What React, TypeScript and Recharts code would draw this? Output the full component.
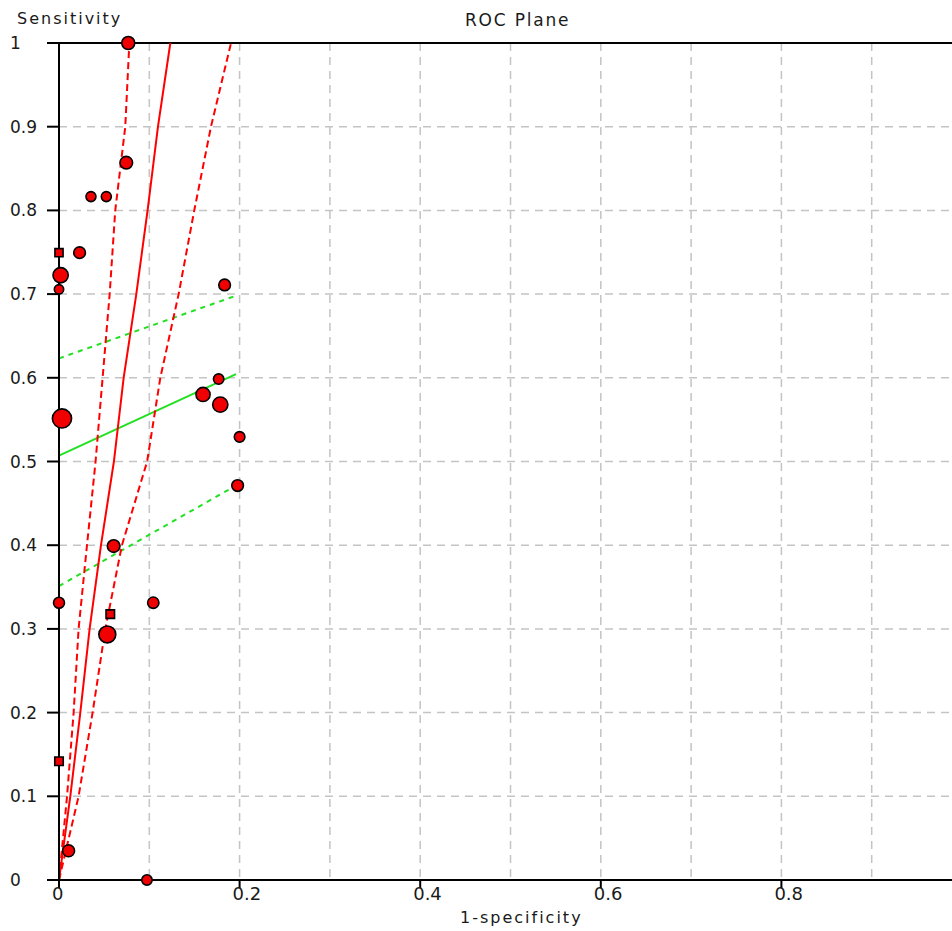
import React from 'react';
import {
  ComposedChart,
  XAxis,
  YAxis,
  ZAxis,
  CartesianGrid,
  Scatter,
  Line,
  ReferenceLine,
  Label,
} from 'recharts';

// ---- axis ticks ----
const xTicks = [0, 0.1, 0.2, 0.3, 0.4, 0.5, 0.6, 0.7, 0.8, 0.9, 1];
const xTickLabels = ['0', '', '0.2', '', '0.4', '', '0.6', '', '0.8', '', ''];
const yTicks = [0, 0.1, 0.2, 0.3, 0.4, 0.5, 0.6, 0.7, 0.8, 0.9, 1];
const yTickLabels = ['0', '0.1', '0.2', '0.3', '0.4', '0.5', '0.6', '0.7', '0.8', '0.9', '1'];

// ---- individual studies (1-specificity, sensitivity, weight) ----
const studyFpr = [
  0.0767, 0.0745, 0.0354, 0.0524, 0.0228, 0.0018, 0, 0.1834, 0.1768, 0.1595, 0.1786,
  0.0033, 0.2, 0.1978, 0.0605, 0, 0.1044, 0.0535, 0.0106, 0.0974,
];
const studySens = [
  1.0, 0.857, 0.8165, 0.8165, 0.7495, 0.7225, 0.7057, 0.7109, 0.5985, 0.5801, 0.568,
  0.5514, 0.5294, 0.4713, 0.399, 0.3313, 0.3313, 0.2934, 0.035, 0,
];
const studyWeight = [
  42, 40, 25, 25, 34, 58, 22, 34, 27, 50, 58,
  92, 28, 34, 40, 30, 32, 72, 36, 27,
];

// small studies drawn as squares
const smallFpr = [0, 0.0568, 0];
const smallSens = [0.7495, 0.3177, 0.1419];
const smallWeight = [21, 23, 23];

// ---- SROC curve and its confidence band ----
const srocSens = [0, 0.1, 0.2, 0.3, 0.4, 0.5, 0.6, 0.7, 0.8, 0.9, 1];
const srocFpr = [0, 0.0125, 0.0236, 0.0339, 0.0465, 0.0608, 0.0716, 0.0856, 0.0981, 0.1096, 0.1233];
const srocLowFpr = [0, 0.0089, 0.0162, 0.0217, 0.031, 0.0405, 0.0483, 0.0561, 0.0623, 0.0734, 0.0779];
const srocHighFpr = [0, 0.0217, 0.0372, 0.0513, 0.0697, 0.0976, 0.1122, 0.1325, 0.1498, 0.1683, 0.1905];

// ---- regression line (green) and its band ----
const regFpr = [0, 0.196];
const regSens = [0.507, 0.6044];
const regUpFpr = [0, 0.195];
const regUpSens = [0.6232, 0.6977];
const regLowFpr = [0, 0.198];
const regLowSens = [0.3512, 0.4725];

const studies = studyFpr.map((f, i) => ({ fpr: f, sens: studySens[i], w: studyWeight[i] }));
const smallStudies = smallFpr.map((f, i) => ({ fpr: f, sens: smallSens[i], w: smallWeight[i] }));
const sroc = srocSens.map((s, i) => ({ fpr: srocFpr[i], sens: s }));
const srocLow = srocSens.map((s, i) => ({ fpr: srocLowFpr[i], sens: s }));
const srocHigh = srocSens.map((s, i) => ({ fpr: srocHighFpr[i], sens: s }));
const reg = regFpr.map((f, i) => ({ fpr: f, sens: regSens[i] }));
const regUp = regUpFpr.map((f, i) => ({ fpr: f, sens: regUpSens[i] }));
const regLow = regLowFpr.map((f, i) => ({ fpr: f, sens: regLowSens[i] }));

const FONT = '"DejaVu Sans", Verdana, sans-serif';
const TEXT = '#1a1a1a';
const RED = '#ff0000';
const GREEN = '#22e022';

const XTick = (props: any) => {
  const { x, y, index } = props;
  const label = xTickLabels[index];
  if (!label) return null;
  return (
    <g>
      <line x1={x} y1={y} x2={x} y2={y + 8} stroke="#000" strokeWidth={2} />
      <text x={x - 7} y={y + 20} fontSize={18} fontFamily={FONT} fill={TEXT} textAnchor="start">
        {label}
      </text>
    </g>
  );
};

const YTick = (props: any) => {
  const { x, y, index } = props;
  return (
    <g>
      <line x1={x - 12} y1={y} x2={x} y2={y} stroke="#000" strokeWidth={2} />
      <text x={x - 49} y={y + 6} fontSize={17} fontFamily={FONT} fill={TEXT} textAnchor="start">
        {yTickLabels[index]}
      </text>
    </g>
  );
};

export default function App() {
  return (
    <div
      style={{
        position: 'absolute',
        left: 0,
        top: 0,
        width: 952,
        height: 931,
        overflow: 'hidden',
        background: '#ffffff',
      }}
    >
      <ComposedChart
        width={1010}
        height={931}
        margin={{ top: 43, right: 48, bottom: 0, left: 0 }}
      >
        <CartesianGrid stroke="#c4c4c4" strokeWidth={1.5} strokeDasharray="8 6" />
        <XAxis
          dataKey="fpr"
          type="number"
          domain={[0, 1]}
          ticks={xTicks}
          interval={0}
          height={51}
          tickSize={0}
          tickMargin={0}
          tickLine={false}
          axisLine={{ stroke: '#000', strokeWidth: 2 }}
          tick={<XTick />}
        >
          <Label
            content={(p: any) => (
              <text
                x={p.viewBox.x + 401}
                y={p.viewBox.y + 42.5}
                fontSize={16}
                letterSpacing={2}
                fontFamily={FONT}
                fill={TEXT}
              >
                1-specificity
              </text>
            )}
          />
        </XAxis>
        <YAxis
          dataKey="sens"
          type="number"
          domain={[0, 1]}
          ticks={yTicks}
          interval={0}
          width={59}
          tickSize={0}
          tickMargin={0}
          tickLine={false}
          axisLine={{ stroke: '#000', strokeWidth: 2 }}
          tick={<YTick />}
        >
          <Label
            content={(p: any) => (
              <text
                x={p.viewBox.x + 17}
                y={p.viewBox.y - 19.5}
                fontSize={16}
                letterSpacing={2}
                fontFamily={FONT}
                fill={TEXT}
              >
                Sensitivity
              </text>
            )}
          />
        </YAxis>
        <ZAxis type="number" dataKey="w" domain={[0, 100]} range={[0, 314]} />
        <ReferenceLine
          y={1}
          stroke="#000"
          strokeWidth={2}
          label={(p: any) => (
            <text
              x={p.viewBox.x + 406}
              y={p.viewBox.y - 17.5}
              fontSize={17}
              letterSpacing={1.8}
              fontFamily={FONT}
              fill={TEXT}
            >
              ROC Plane
            </text>
          )}
        />
        <Line data={regUp} dataKey="sens" type="linear" stroke={GREEN} strokeWidth={2} strokeDasharray="5 5" dot={false} activeDot={false} isAnimationActive={false} />
        <Line data={regLow} dataKey="sens" type="linear" stroke={GREEN} strokeWidth={2} strokeDasharray="5 5" dot={false} activeDot={false} isAnimationActive={false} />
        <Line data={reg} dataKey="sens" type="linear" stroke={GREEN} strokeWidth={2} dot={false} activeDot={false} isAnimationActive={false} />
        <Line data={srocLow} dataKey="sens" type="linear" stroke={RED} strokeWidth={2} strokeDasharray="7 4" dot={false} activeDot={false} isAnimationActive={false} />
        <Line data={srocHigh} dataKey="sens" type="linear" stroke={RED} strokeWidth={2} strokeDasharray="7 4" dot={false} activeDot={false} isAnimationActive={false} />
        <Line data={sroc} dataKey="sens" type="linear" stroke={RED} strokeWidth={2} dot={false} activeDot={false} isAnimationActive={false} />
        <Scatter data={studies} fill="#f00000" stroke="#000" strokeWidth={1.6} isAnimationActive={false} />
        <Scatter data={smallStudies} shape="square" fill="#f00000" stroke="#000" strokeWidth={1.6} isAnimationActive={false} />
      </ComposedChart>
    </div>
  );
}
